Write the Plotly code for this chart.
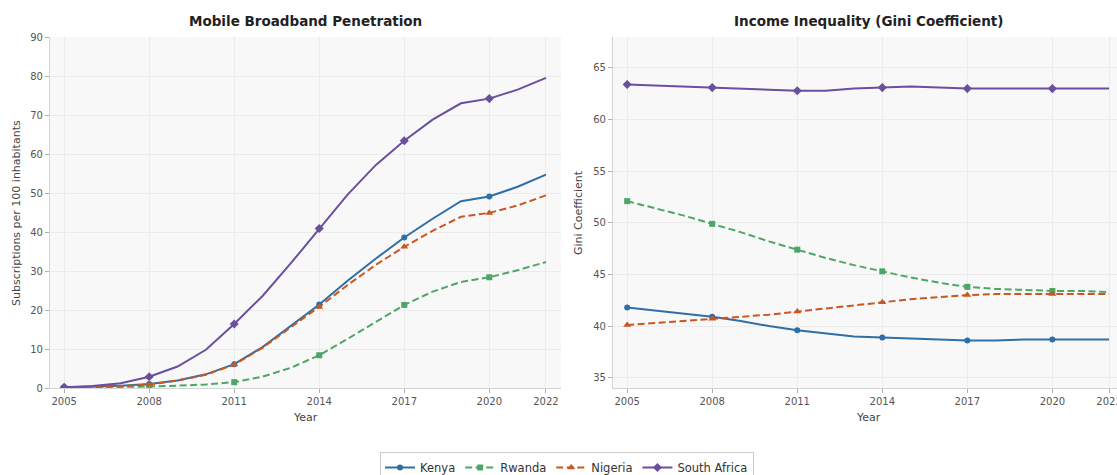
import plotly.graph_objects as go

# Years covered by both panels
years = list(range(2005, 2023))

# Mobile broadband subscriptions per 100 inhabitants
broadband_kenya = [0.1, 0.3, 0.6, 1.0, 1.9, 3.5, 6.1, 10.5, 16.0, 21.4, 27.5, 33.2, 38.6, 43.4, 47.9, 49.1, 51.6, 54.7]
broadband_rwanda = [0.0, 0.1, 0.2, 0.4, 0.6, 0.9, 1.5, 2.9, 5.2, 8.4, 12.6, 16.9, 21.3, 24.7, 27.2, 28.4, 30.2, 32.3]
broadband_nigeria = [0.1, 0.2, 0.5, 0.9, 1.9, 3.4, 6.0, 10.3, 15.6, 20.8, 26.4, 31.6, 36.2, 40.3, 43.9, 44.9, 46.8, 49.4]
broadband_south_africa = [0.2, 0.5, 1.2, 2.9, 5.5, 9.8, 16.4, 23.6, 32.0, 40.9, 49.6, 57.2, 63.4, 68.8, 73.0, 74.2, 76.5, 79.5]

# Gini coefficient
gini_kenya = [41.8, 41.5, 41.2, 40.9, 40.5, 40.0, 39.6, 39.3, 39.0, 38.9, 38.8, 38.7, 38.6, 38.6, 38.7, 38.7, 38.7, 38.7]
gini_rwanda = [52.1, 51.4, 50.7, 49.9, 49.1, 48.2, 47.4, 46.6, 45.9, 45.3, 44.7, 44.2, 43.8, 43.6, 43.5, 43.4, 43.4, 43.3]
gini_nigeria = [40.1, 40.3, 40.5, 40.7, 40.9, 41.1, 41.4, 41.7, 42.0, 42.3, 42.6, 42.8, 43.0, 43.1, 43.1, 43.1, 43.1, 43.1]
gini_south_africa = [63.4, 63.3, 63.2, 63.1, 63.0, 62.9, 62.8, 62.8, 63.0, 63.1, 63.2, 63.1, 63.0, 63.0, 63.0, 63.0, 63.0, 63.0]

countries = ["Kenya", "Rwanda", "Nigeria", "South Africa"]
x_tick_vals = [2005, 2008, 2011, 2014, 2017, 2020, 2022]

styles = {
    "Kenya": dict(color="#2f6ea7", dash="solid", symbol="circle", size=6),
    "Rwanda": dict(color="#4ea665", dash="7px,3.5px", symbol="square", size=6),
    "Nigeria": dict(color="#c9571f", dash="7px,3.5px", symbol="triangle-up", size=7),
    "South Africa": dict(color="#6a4f9f", dash="solid", symbol="diamond", size=7),
}

broadband = dict(zip(countries, [broadband_kenya, broadband_rwanda, broadband_nigeria, broadband_south_africa]))
gini = dict(zip(countries, [gini_kenya, gini_rwanda, gini_nigeria, gini_south_africa]))

FONT = "DejaVu Sans"
W, H = 1117, 475

fig = go.Figure()


def add_series(name, values, xa, ya):
    st = styles[name]
    fig.add_trace(go.Scatter(
        x=years, y=values, mode="lines", xaxis=xa, yaxis=ya,
        line=dict(color=st["color"], width=2, dash=st["dash"]),
        showlegend=False, legendgroup=name, hoverinfo="skip"))
    # markers every third year
    fig.add_trace(go.Scatter(
        x=years[::3], y=values[::3], mode="markers", xaxis=xa, yaxis=ya,
        marker=dict(color=st["color"], symbol=st["symbol"], size=st["size"]),
        showlegend=False, legendgroup=name, name=name))


for c in countries:
    add_series(c, broadband[c], "x", "y")
for c in countries:
    add_series(c, gini[c], "x2", "y2")

# legend entries
for c in countries:
    st = styles[c]
    fig.add_trace(go.Scatter(
        x=[None], y=[None], mode="lines+markers", name=c, legendgroup=c,
        line=dict(color=st["color"], width=2, dash=st["dash"]),
        marker=dict(color=st["color"], symbol=st["symbol"], size=st["size"])))


def px_x(p):
    return p / W


def px_y(p):
    return 1 - p / H


axis_common = dict(
    showgrid=True, gridcolor="#ebebeb", gridwidth=1,
    showline=True, linecolor="#d4d4d4", linewidth=1.2,
    ticks="outside", ticklen=4, tickcolor="#b0b0b0", tickwidth=1,
    tickfont=dict(family=FONT, size=10, color="#555555"),
    zeroline=False, mirror=False, ticklabeloverflow="allow",
)

y_top, y_bot = px_y(37), px_y(388)

fig.update_layout(
    width=W, height=H,
    margin=dict(l=0, r=0, t=0, b=0, autoexpand=False),
    paper_bgcolor="white",
    plot_bgcolor="#f8f8f8",
    font=dict(family=FONT, color="#444444"),
    xaxis=dict(domain=[px_x(50), px_x(561)], range=[2004.5, 2022.53],
               tickvals=x_tick_vals, anchor="y", **axis_common),
    yaxis=dict(domain=[y_bot, y_top], range=[0, 90], tickvals=list(range(0, 91, 10)),
               anchor="x", **axis_common),
    xaxis2=dict(domain=[px_x(613), 1.0], range=[2004.5, 2022.28],
                tickvals=x_tick_vals, anchor="y2", **axis_common),
    yaxis2=dict(domain=[y_bot, y_top], range=[34, 68], tickvals=list(range(35, 66, 5)),
                anchor="x2", **axis_common),
    legend=dict(orientation="h", x=px_x(567), xanchor="center", y=px_y(452), yanchor="top",
                bgcolor="white", bordercolor="#cccccc", borderwidth=1,
                font=dict(family=FONT, size=11.5, color="#333333"),
                itemwidth=30, tracegroupgap=0),
    showlegend=True,
)

annotations = [
    dict(text="<b>Mobile Broadband Penetration</b>", x=px_x(305), y=px_y(21),
         font=dict(size=13.5, color="#222222")),
    dict(text="<b>Income Inequality (Gini Coefficient)</b>", x=px_x(868), y=px_y(21),
         font=dict(size=13.5, color="#222222")),
    dict(text="Year", x=px_x(305), y=px_y(417), font=dict(size=11, color="#444444")),
    dict(text="Year", x=px_x(868), y=px_y(417), font=dict(size=11, color="#444444")),
    dict(text="Subscriptions per 100 inhabitants", x=px_x(16), y=px_y(213), textangle=-90,
         font=dict(size=11, color="#444444")),
    dict(text="Gini Coefficient", x=px_x(578), y=px_y(213), textangle=-90,
         font=dict(size=11, color="#444444")),
]
for a in annotations:
    a.update(xref="paper", yref="paper", showarrow=False, xanchor="center", yanchor="middle")
    a["font"]["family"] = FONT
fig.update_layout(annotations=annotations)

fig.write_html("out.html")
